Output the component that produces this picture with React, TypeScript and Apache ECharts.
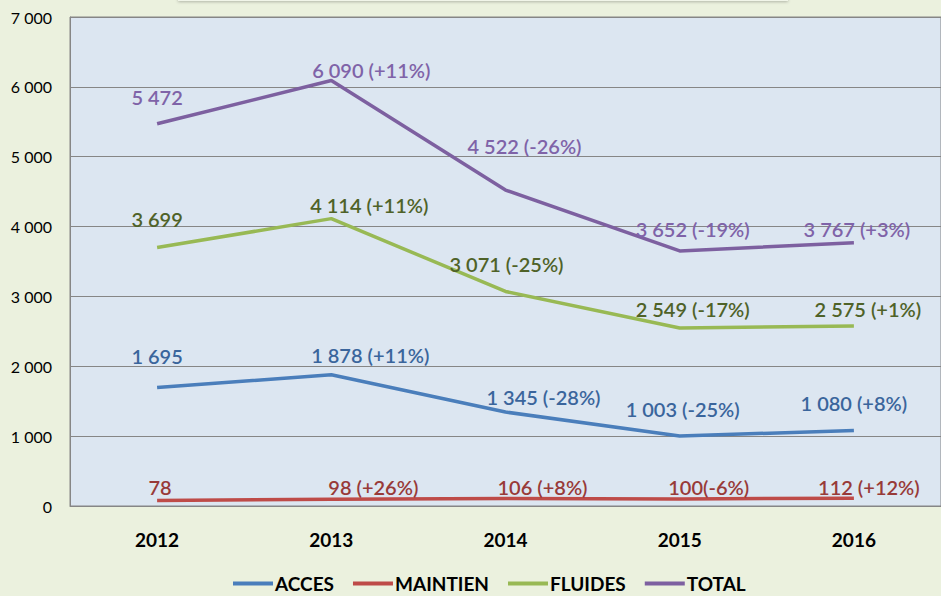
import React, { useEffect, useRef } from "react";
import * as echarts from "echarts";

const years = ["2012", "2013", "2014", "2015", "2016"];
const acces = [1695, 1878, 1345, 1003, 1080];
const maintien = [78, 98, 106, 100, 112];
const fluides = [3699, 4114, 3071, 2549, 2575];
const total = [5472, 6090, 4522, 3652, 3767];

const accesChange = ["", " (+11%)", " (-28%)", " (-25%)", " (+8%)"];
const maintienChange = ["", " (+26%)", " (+8%)", "(-6%)", " (+12%)"];
const fluidesChange = ["", " (+11%)", " (-25%)", " (-17%)", " (+1%)"];
const totalChange = ["", " (+11%)", " (-26%)", " (-19%)", " (+3%)"];

const yTicks = ["0", "1 000", "2 000", "3 000", "4 000", "5 000", "6 000", "7 000"];

// label placement offsets (styling, not data)
const accesOffsets = [[0, -32], [39, -20], [38, -15], [3, -27], [0, -28]];
const maintienOffsets = [[3, -14], [42, -12], [37, -12], [29, -12], [15, -11]];
const fluidesOffsets = [[0, -29], [38, -14], [1, -27], [13, -19], [14, -17]];
const totalOffsets = [[0, -27], [40, -11], [19, -44], [13, -22], [3, -14]];

const FONT = "Lato, 'Open Sans', sans-serif";

function fmt(v: number): string {
  const s = String(v);
  return s.length > 3 ? s.slice(0, s.length - 3) + " " + s.slice(-3) : s;
}

function makeSeries(
  name: string,
  values: number[],
  changes: string[],
  offsets: number[][],
  lineColor: string,
  labelColor: string
) {
  return {
    name,
    type: "line",
    showSymbol: true,
    symbol: "circle",
    symbolSize: 0.01,
    lineStyle: { color: lineColor, width: 3.5 },
    itemStyle: { color: lineColor },
    label: { show: true },
    data: values.map((v, i) => ({
      value: v,
      label: {
        show: true,
        position: "inside",
        offset: offsets[i],
        formatter: fmt(v) + changes[i],
        color: labelColor,
        fontFamily: FONT,
        fontSize: 20,
        fontWeight: 600,
      },
    })),
  };
}

export default function App() {
  const ref = useRef<HTMLDivElement>(null);
  useEffect(() => {
    if (!ref.current) return;
    const chart = echarts.init(ref.current, undefined, { renderer: "svg" });
    chart.setOption({
      animation: false,
      backgroundColor: "#ebf1de",
      graphic: [
        {
          type: "rect",
          shape: { x: 178, y: -5, width: 610, height: 6 },
          style: {
            fill: "#f1f5e9",
            shadowBlur: 3,
            shadowColor: "rgba(0,0,0,0.25)",
            shadowOffsetY: 1,
          },
          z: 0,
        },
      ],
      grid: {
        left: 70,
        top: 17,
        right: -6,
        bottom: 90,
        show: true,
        backgroundColor: "#dce6f1",
        borderColor: "#868686",
        borderWidth: 1,
      },
      legend: {
        bottom: -2,
        left: 228,
        itemWidth: 40,
        itemHeight: 4,
        itemGap: 19,
        icon: "rect",
        textStyle: {
          color: "#000",
          fontFamily: FONT,
          fontSize: 19,
          fontWeight: "bold",
          padding: [0, 0, 0, -3],
        },
        data: ["ACCES", "MAINTIEN", "FLUIDES", "TOTAL"],
      },
      xAxis: {
        type: "category",
        data: years,
        boundaryGap: true,
        axisLine: { lineStyle: { color: "#868686", width: 1 } },
        axisTick: { show: false },
        axisLabel: {
          color: "#000",
          fontFamily: FONT,
          fontSize: 19,
          fontWeight: "bold",
          margin: 24,
        },
      },
      yAxis: {
        type: "value",
        min: 0,
        max: 7000,
        interval: 1000,
        axisLine: { show: true, lineStyle: { color: "#868686" } },
        axisTick: { show: false },
        splitLine: { lineStyle: { color: "#868686", width: 1 } },
        axisLabel: {
          color: "#000",
          fontFamily: FONT,
          fontSize: 16,
          margin: 18,
          formatter: (v: number) => yTicks[Math.round(v / 1000)],
        },
      },
      series: [
        makeSeries("ACCES", acces, accesChange, accesOffsets, "#4a7ebb", "#3a659c"),
        makeSeries("MAINTIEN", maintien, maintienChange, maintienOffsets, "#be4b48", "#983a38"),
        makeSeries("FLUIDES", fluides, fluidesChange, fluidesOffsets, "#98b954", "#4f6228"),
        makeSeries("TOTAL", total, totalChange, totalOffsets, "#7d60a0", "#7f63a8"),
      ],
    });
    return () => chart.dispose();
  }, []);
  return <div ref={ref} style={{ width: 941, height: 596, position: "absolute", left: 0, top: 0 }} />;
}
